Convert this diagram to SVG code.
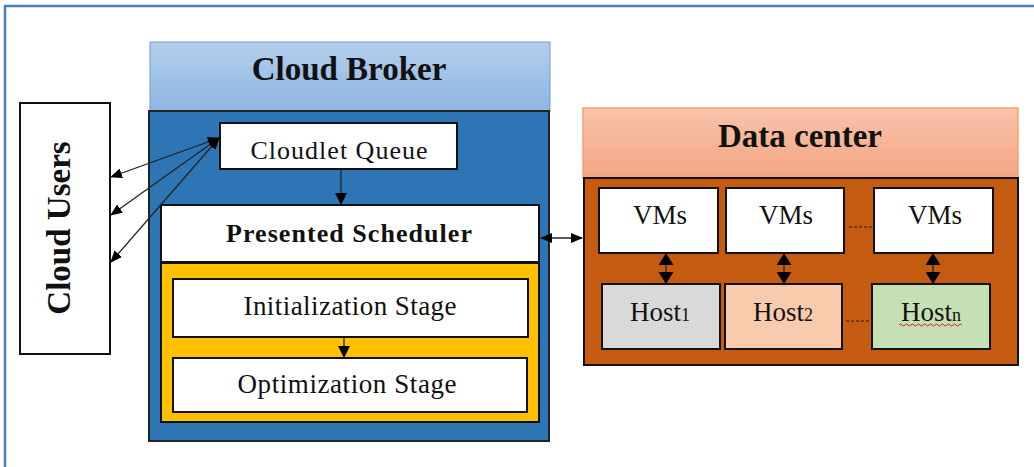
<svg xmlns="http://www.w3.org/2000/svg" width="1034" height="467" viewBox="0 0 1034 467">
<defs>
<linearGradient id="gBroker" x1="0" y1="0" x2="0" y2="1">
<stop offset="0" stop-color="#b3cfec"/><stop offset="1" stop-color="#8fb5e2"/>
</linearGradient>
<linearGradient id="gDC" x1="0" y1="0" x2="0" y2="1">
<stop offset="0" stop-color="#f9c3ab"/><stop offset="1" stop-color="#f3a583"/>
</linearGradient>
<marker id="ahs" viewBox="0 0 12 10" refX="11" refY="5" markerWidth="12" markerHeight="10" markerUnits="userSpaceOnUse" orient="auto-start-reverse">
<path d="M0,0 L12,5 L0,10 Z" fill="#000"/>
</marker>
<marker id="ahm" viewBox="0 0 12 12" refX="11" refY="6" markerWidth="12" markerHeight="12" markerUnits="userSpaceOnUse" orient="auto-start-reverse">
<path d="M0,0 L12,6 L0,12 Z" fill="#000"/>
</marker>
<marker id="ahb" viewBox="0 0 12 15" refX="11" refY="7.5" markerWidth="12" markerHeight="15" markerUnits="userSpaceOnUse" orient="auto-start-reverse">
<path d="M0,0 L12,7.5 L0,15 Z" fill="#000"/>
</marker>
</defs>
<style>
.box{fill:#fff;stroke:#111;stroke-width:2}
.t{font-family:"Liberation Serif","Times New Roman",serif;fill:#111;text-anchor:middle}
.b{font-weight:bold}
.c{stroke:#222;stroke-width:1.3;fill:none}
.dash{stroke:#2a1a0a;stroke-width:1.2;stroke-dasharray:3,2;fill:none}
</style>
<rect x="0" y="0" width="1034" height="467" fill="#fff"/>
<path d="M5,467 V6 H1034" fill="none" stroke="#4a7ebb" stroke-width="2.5"/>

<g id="cloud-users">
<rect class="box" x="20" y="103" width="90" height="251"/>
<text class="t b" font-size="33" transform="translate(70,228) rotate(-90)">Cloud Users</text>
</g>

<g id="cloud-broker">
<rect x="150" y="42" width="400" height="69" fill="url(#gBroker)" stroke="#6a9fd8" stroke-width="1"/>
<rect x="149" y="111" width="400" height="330" fill="#2e75b6" stroke="#222" stroke-width="2"/>
<text class="t b" x="349" y="80" font-size="33">Cloud Broker</text>
</g>

<g id="cloudlet-queue">
<rect class="box" x="220" y="123" width="237" height="46"/>
<text class="t" x="339" y="159" font-size="26" textLength="177" lengthAdjust="spacing">Cloudlet Queue</text>
</g>

<g id="presented-scheduler">
<rect class="box" x="161" y="205" width="378" height="57"/>
<text class="t b" x="349" y="242" font-size="26" textLength="246" lengthAdjust="spacing">Presented Scheduler</text>
</g>

<g id="stages">
<rect x="161" y="263" width="378" height="159" fill="#ffc000" stroke="#111" stroke-width="2"/>
</g>
<g id="initialization-stage">
<rect class="box" x="173" y="279" width="355" height="58"/>
<text class="t" x="350" y="315" font-size="27" textLength="213" lengthAdjust="spacing">Initialization Stage</text>
</g>
<g id="optimization-stage">
<rect class="box" x="173" y="358" width="354" height="54"/>
<text class="t" x="347" y="393" font-size="27" textLength="219" lengthAdjust="spacing">Optimization Stage</text>
</g>

<g id="data-center">
<rect x="583" y="108" width="435" height="70" fill="url(#gDC)" stroke="#f4a46c" stroke-width="1.5"/>
<rect x="584" y="178" width="434" height="187" fill="#c55a11" stroke="#111" stroke-width="2"/>
<text class="t b" x="800" y="147" font-size="33">Data center</text>
</g>

<g id="vms-1"><rect class="box" x="599" y="188" width="119" height="65"/><text class="t" x="660" y="224" font-size="27">VMs</text></g>
<g id="vms-2"><rect class="box" x="726" y="188" width="118" height="65"/><text class="t" x="786" y="224" font-size="27">VMs</text></g>
<g id="vms-n"><rect class="box" x="874" y="188" width="119" height="65"/><text class="t" x="935" y="224" font-size="27">VMs</text></g>

<g id="host-1"><rect x="602" y="284" width="118" height="65" fill="#d9d9d9" stroke="#111" stroke-width="2"/><text class="t" x="660" y="321" font-size="27">Host<tspan font-size="18">1</tspan></text></g>
<g id="host-2"><rect x="725" y="284" width="117" height="65" fill="#f8cbad" stroke="#111" stroke-width="2"/><text class="t" x="783" y="321" font-size="27">Host<tspan font-size="18">2</tspan></text></g>
<g id="host-n"><rect x="872" y="284" width="118" height="65" fill="#c5e0b4" stroke="#111" stroke-width="2"/><text class="t" x="931" y="321" font-size="27">Host<tspan font-size="18">n</tspan></text>
<path d="M899,325 q1.5,-2 3,0 t3,0 t3,0 t3,0 t3,0 t3,0 t3,0 t3,0 t3,0 t3,0 t3,0 t3,0 t3,0 t3,0 t3,0 t3,0 t3,0 t3,0 t3,0 t3,0 t3,0" fill="none" stroke="#e02020" stroke-width="1"/></g>

<g id="connectors">
<line class="c" x1="219" y1="138" x2="111" y2="177" marker-start="url(#ahs)" marker-end="url(#ahs)"/>
<line class="c" x1="219" y1="138" x2="111" y2="215" marker-start="url(#ahs)" marker-end="url(#ahs)"/>
<line class="c" x1="219" y1="138" x2="111" y2="262" marker-start="url(#ahs)" marker-end="url(#ahs)"/>
<line class="c" x1="341" y1="170" x2="341" y2="204" marker-end="url(#ahm)"/>
<line class="c" x1="344" y1="338" x2="344" y2="357" marker-end="url(#ahm)"/>
<line class="c" x1="541" y1="238" x2="582" y2="238" marker-start="url(#ahs)" marker-end="url(#ahs)"/>
<line class="c" x1="666" y1="254" x2="666" y2="283" marker-start="url(#ahb)" marker-end="url(#ahb)"/>
<line class="c" x1="784" y1="254" x2="784" y2="283" marker-start="url(#ahb)" marker-end="url(#ahb)"/>
<line class="c" x1="933" y1="254" x2="933" y2="283" marker-start="url(#ahb)" marker-end="url(#ahb)"/>
<line class="dash" x1="849" y1="227" x2="874" y2="227"/>
<line class="dash" x1="846" y1="321" x2="871" y2="321"/>
</g>
</svg>
